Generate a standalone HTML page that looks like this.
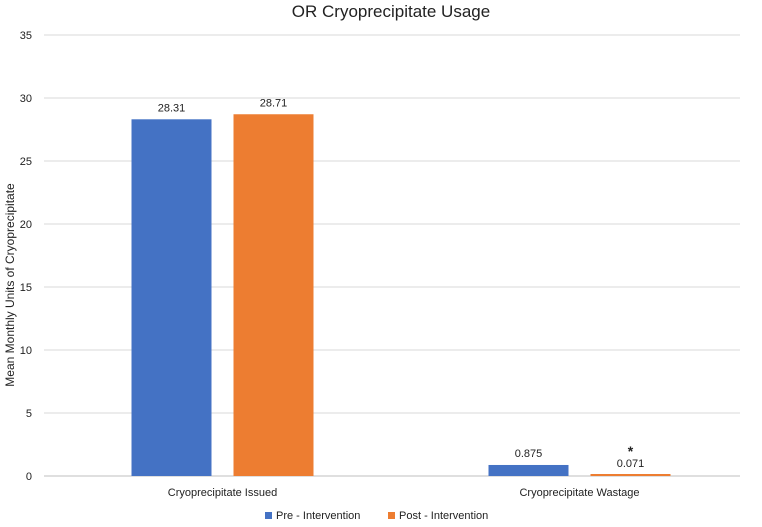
<!DOCTYPE html>
<html><head><meta charset="utf-8"><style>
body{margin:0;background:#fff;font-family:"Liberation Sans",sans-serif}
svg text{font-family:"Liberation Sans",sans-serif}
</style></head><body>
<svg id="c" width="762" height="522">
<text x="391" y="17" font-size="17" text-anchor="middle" fill="#222">OR Cryoprecipitate Usage</text>
<text transform="translate(14,285) rotate(-90)" font-size="12" text-anchor="middle" fill="#222">Mean Monthly Units of Cryoprecipitate</text>
<g id="grid"></g><g id="bars"></g>
<g>
<rect x="265" y="512" width="7" height="7" fill="#4472C4"/>
<text x="276" y="519" font-size="11" fill="#222">Pre - Intervention</text>
<rect x="388" y="512" width="7" height="7" fill="#ED7D31"/>
<text x="399" y="519" font-size="11" fill="#222">Post - Intervention</text>
</g>
</svg>
<script>
const categories=["Cryoprecipitate Issued","Cryoprecipitate Wastage"];
const preValues=[28.31,0.875];
const postValues=[28.71,0.071];
const valueLabels=[["28.31","28.71"],["0.875","0.071"]];
const yTicks=[0,5,10,15,20,25,30,35];
const ns="http://www.w3.org/2000/svg";
const y0=476,pxPer=12.6,left=44,right=740,band=357;
const y=v=>y0-v*pxPer;
const xc=i=>left+band*(i+0.5);
function mk(t,a,p){const e=document.createElementNS(ns,t);for(const k in a)e.setAttribute(k,a[k]);p.appendChild(e);return e;}
const g=document.getElementById('grid'),b=document.getElementById('bars');
yTicks.forEach(t=>{
 const l=mk('line',{x1:left,x2:right,y1:y(t),y2:y(t),stroke:t===0?'#bfbfbf':'#d9d9d9','stroke-width':1},g);
 
 
 const tx=mk('text',{x:32,y:y(t)+4,'font-size':11,'text-anchor':'end',fill:'#222'},g);
 tx.textContent=t;
 
 
});
const series=[[preValues,'#4472C4','pre'],[postValues,'#ED7D31','post']];
categories.forEach((c,i)=>{
 series.forEach((s,j)=>{
  const v=s[0][i],x=xc(i)+(j===0?-91:11),w=80;
  const h=Math.max(y0-y(v),2);
  const r=mk('rect',{x:x,y:y0-h,width:w,height:h,fill:s[1]},b);
  
  
  const t=mk('text',{x:x+w/2,y:y(v)-8,'font-size':11,'text-anchor':'middle',fill:'#222'},b);
  t.textContent=valueLabels[i][j];
  
  
  if(i===1&&j===1){
   const st=mk('text',{x:x+w/2,y:y(v)-19,'font-size':14,'font-weight':'bold','text-anchor':'middle',fill:'#222'},b);
   st.textContent='*';
   
   
  }
 });
 const ct=mk('text',{x:xc(i),y:496,'font-size':11,'text-anchor':'middle',fill:'#222'},b);
 ct.textContent=c;
 
 
});
</script>
</body></html>
